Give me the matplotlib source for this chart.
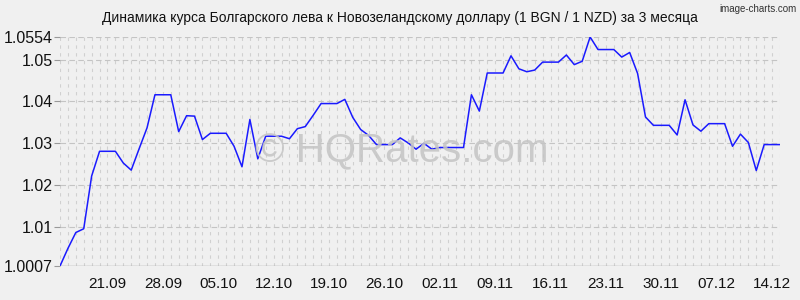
import matplotlib
matplotlib.use('Agg')
import matplotlib.pyplot as plt
import matplotlib.dates as mdates
import numpy as np
import pandas as pd

plt.rcParams["font.family"] = ["Liberation Sans", "DejaVu Sans"]

# daily BGN/NZD rate, 15.09 .. 15.12
dates = pd.date_range("2024-09-15", "2024-12-15", freq="D")
rates = [
    1.0007, 1.0049, 1.0087, 1.0096, 1.0222, 1.0281, 1.0281, 1.0281, 1.0253, 1.0236,
    1.0287, 1.0337, 1.0416, 1.0416, 1.0416, 1.0328, 1.0366, 1.0365, 1.0309, 1.0324,
    1.0324, 1.0324, 1.0293, 1.0244, 1.0357, 1.0263, 1.0317, 1.0317, 1.0317, 1.0311,
    1.0335, 1.0340, 1.0367, 1.0395, 1.0395, 1.0395, 1.0405, 1.0362, 1.0333, 1.0319,
    1.0297, 1.0297, 1.0297, 1.0313, 1.0301, 1.0286, 1.0300, 1.0286, 1.0290, 1.0290,
    1.0290, 1.0290, 1.0416, 1.0377, 1.0468, 1.0468, 1.0468, 1.0509, 1.0478, 1.0471,
    1.0475, 1.0494, 1.0494, 1.0494, 1.0511, 1.0488, 1.0496, 1.0554, 1.0524, 1.0524,
    1.0524, 1.0506, 1.0517, 1.0467, 1.0363, 1.0343, 1.0343, 1.0343, 1.0320, 1.0404,
    1.0344, 1.0329, 1.0347, 1.0347, 1.0347, 1.0293, 1.0322, 1.0302, 1.0235, 1.0297,
    1.0297, 1.0297,
]
y_ticks = [1.0007, 1.01, 1.02, 1.03, 1.04, 1.05, 1.0554]
y_labels = ["1.0007", "1.01", "1.02", "1.03", "1.04", "1.05", "1.0554"]
x_tick_dates = pd.date_range("2024-09-21", "2024-12-14", freq="7D")
title = "Динамика курса Болгарского лева к Новозеландскому доллару (1 BGN / 1 NZD) за 3 месяца"

bg = "#f0f0f0"
fig = plt.figure(figsize=(8, 3), dpi=100, facecolor=bg)
ax = fig.add_axes([0.075, 0.1133, 0.9, 0.7634], facecolor=bg)

# daily dashed vertical grid
for d in dates:
    ax.axvline(d, color="#d0d0d0", lw=0.8, ls=(0, (3, 4)), zorder=0)
for v in y_ticks:
    ax.axhline(v, color="#c4c4c4", lw=0.8, ls=(0, (5, 3)), zorder=0)

ax.plot(dates, rates, color="#1a1aff", lw=1.1, zorder=3)

ax.set_xlim(dates[0], dates[-1])
ax.set_ylim(y_ticks[0], y_ticks[-1])
ax.set_yticks(y_ticks)
ax.set_yticklabels(y_labels)
ax.set_xticks(x_tick_dates)
ax.xaxis.set_major_formatter(mdates.DateFormatter("%d.%m"))
ax.tick_params(axis="y", length=4, color="#999999", labelsize=11.5, labelcolor="#111111", pad=1)
ax.tick_params(axis="x", length=0, labelsize=11, labelcolor="#111111", pad=8)
for s in ax.spines.values():
    s.set_visible(False)
ax.axhline(y_ticks[0], color="#aaaaaa", lw=1, zorder=1)

fig.text(0.5, 0.94, title, ha="center", va="center", fontsize=10, color="#111111")
fig.text(0.996, 0.985, "image-charts.com", ha="right", va="top", fontsize=7,
         color="#333333")
fig.text(0.502, 0.497, "© HQRates.com", ha="center", va="center", fontsize=29,
         color="#c4c4c4", alpha=0.85, zorder=5)

fig.savefig("out.png", dpi=100, facecolor=bg)
plt.close()
